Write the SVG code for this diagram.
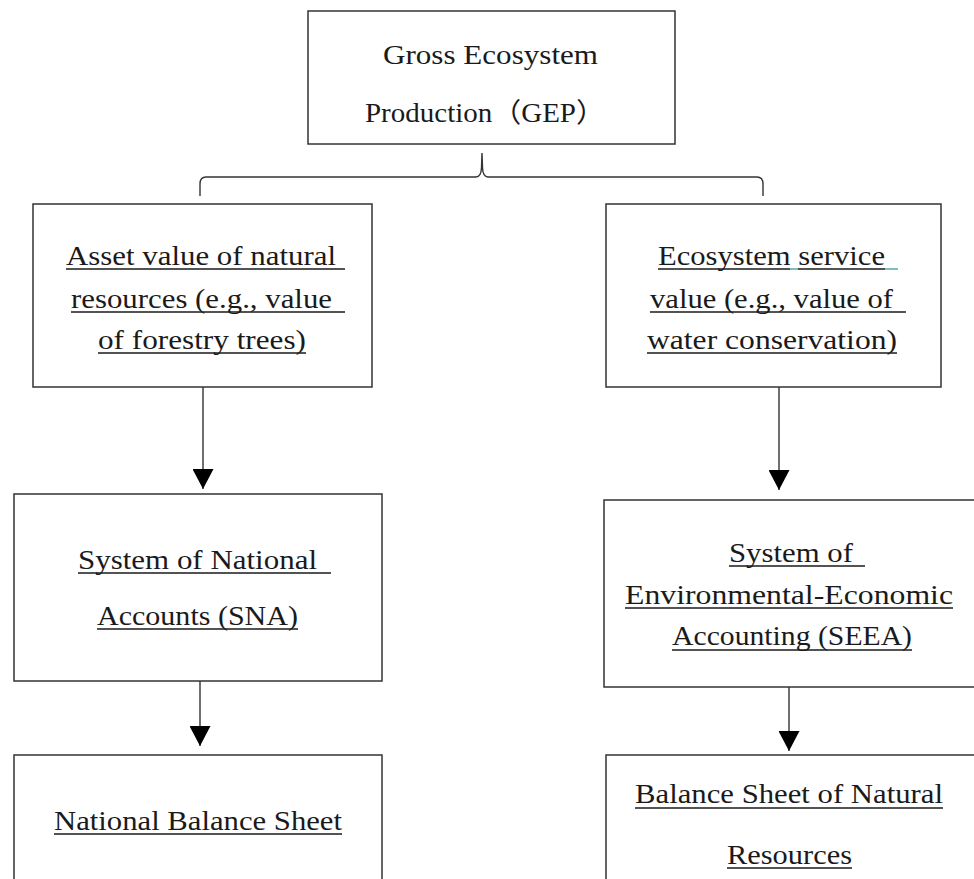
<svg xmlns="http://www.w3.org/2000/svg" width="974" height="879" viewBox="0 0 974 879">
<style>
.box{fill:#fff;stroke:#333;stroke-width:1.5}
.t{font-family:"Liberation Serif","Noto Sans CJK SC",serif;font-size:27px;fill:#1a1a1a}
.ul{stroke:#1a1a1a;stroke-width:1.3}
.ult{stroke:#3a9d9d;stroke-width:1.3}
.con{fill:none;stroke:#333;stroke-width:1.4}
</style>
<defs>
<marker id="ah" markerUnits="userSpaceOnUse" viewBox="0 0 20 21" markerWidth="20" markerHeight="21" refX="20" refY="10.5" orient="auto">
<path d="M0,0 L20,10.5 L0,21 z" fill="#000"/>
</marker>
</defs>
<rect width="974" height="879" fill="#fff"/>

<g id="connectors">
<path class="con" d="M200,196 L200,184 Q200,177 206,177 L476,177 Q481,177 481.5,168 L482,153 L482.5,168 Q483,177 488,177 L757,177 Q763,177 763,184 L763,196"/>
<line class="con" x1="203" y1="387" x2="203" y2="489" marker-end="url(#ah)"/>
<line class="con" x1="779" y1="387" x2="779" y2="490" marker-end="url(#ah)"/>
<line class="con" x1="200" y1="681" x2="200" y2="746" marker-end="url(#ah)"/>
<line class="con" x1="789" y1="687" x2="789" y2="751" marker-end="url(#ah)"/>
</g>

<g id="gep">
<rect class="box" x="308" y="11" width="367" height="133"/>
<text class="t" x="383" y="64" textLength="215" lengthAdjust="spacingAndGlyphs">Gross Ecosystem</text>
<text class="t" x="365" y="122" textLength="240" lengthAdjust="spacingAndGlyphs">Production（GEP）</text>
</g>

<g id="asset">
<rect class="box" x="33" y="204" width="339" height="183"/>
<text class="t" x="66" y="265" textLength="270" lengthAdjust="spacingAndGlyphs">Asset value of natural</text>
<line class="ul" x1="66" y1="269" x2="345" y2="269"/>
<text class="t" x="71" y="308" textLength="261" lengthAdjust="spacingAndGlyphs">resources (e.g., value</text>
<line class="ul" x1="71" y1="312" x2="345" y2="312"/>
<text class="t" x="98" y="349" textLength="208" lengthAdjust="spacingAndGlyphs">of forestry trees)</text>
<line class="ul" x1="98" y1="353" x2="306" y2="353"/>
</g>

<g id="service">
<rect class="box" x="606" y="204" width="335" height="183"/>
<text class="t" x="658" y="265" textLength="227" lengthAdjust="spacingAndGlyphs">Ecosystem service</text>
<line class="ul" x1="658" y1="269" x2="790" y2="269"/>
<line class="ult" x1="790" y1="269" x2="798" y2="269"/>
<line class="ul" x1="798" y1="269" x2="885" y2="269"/>
<line class="ult" x1="885" y1="269" x2="898" y2="269"/>
<text class="t" x="650" y="308" textLength="243" lengthAdjust="spacingAndGlyphs">value (e.g., value of</text>
<line class="ul" x1="650" y1="312" x2="906" y2="312"/>
<text class="t" x="647" y="349" textLength="250" lengthAdjust="spacingAndGlyphs">water conservation)</text>
<line class="ul" x1="647" y1="353" x2="897" y2="353"/>
</g>

<g id="sna">
<rect class="box" x="14" y="494" width="368" height="187"/>
<text class="t" x="78" y="569" textLength="239" lengthAdjust="spacingAndGlyphs">System of National</text>
<line class="ul" x1="78" y1="573" x2="331" y2="573"/>
<text class="t" x="97" y="625" textLength="201" lengthAdjust="spacingAndGlyphs">Accounts (SNA)</text>
<line class="ul" x1="97" y1="629" x2="298" y2="629"/>
</g>

<g id="seea">
<rect class="box" x="604" y="500" width="380" height="187"/>
<text class="t" x="729" y="562" textLength="124" lengthAdjust="spacingAndGlyphs">System of</text>
<line class="ul" x1="729" y1="566" x2="865" y2="566"/>
<text class="t" x="625" y="604" textLength="328" lengthAdjust="spacingAndGlyphs">Environmental-Economic</text>
<line class="ul" x1="625" y1="608" x2="953" y2="608"/>
<text class="t" x="672" y="645" textLength="240" lengthAdjust="spacingAndGlyphs">Accounting (SEEA)</text>
<line class="ul" x1="672" y1="650" x2="912" y2="650"/>
</g>

<g id="nbs">
<rect class="box" x="14" y="755" width="368" height="140"/>
<text class="t" x="54" y="830" textLength="288" lengthAdjust="spacingAndGlyphs">National Balance Sheet</text>
<line class="ul" x1="54" y1="834" x2="342" y2="834"/>
</g>

<g id="bsnr">
<rect class="box" x="606" y="755" width="380" height="140"/>
<text class="t" x="635" y="803" textLength="308" lengthAdjust="spacingAndGlyphs">Balance Sheet of Natural</text>
<line class="ul" x1="635" y1="808" x2="943" y2="808"/>
<text class="t" x="727" y="864" textLength="125" lengthAdjust="spacingAndGlyphs">Resources</text>
<line class="ul" x1="727" y1="868" x2="852" y2="868"/>
</g>
</svg>
